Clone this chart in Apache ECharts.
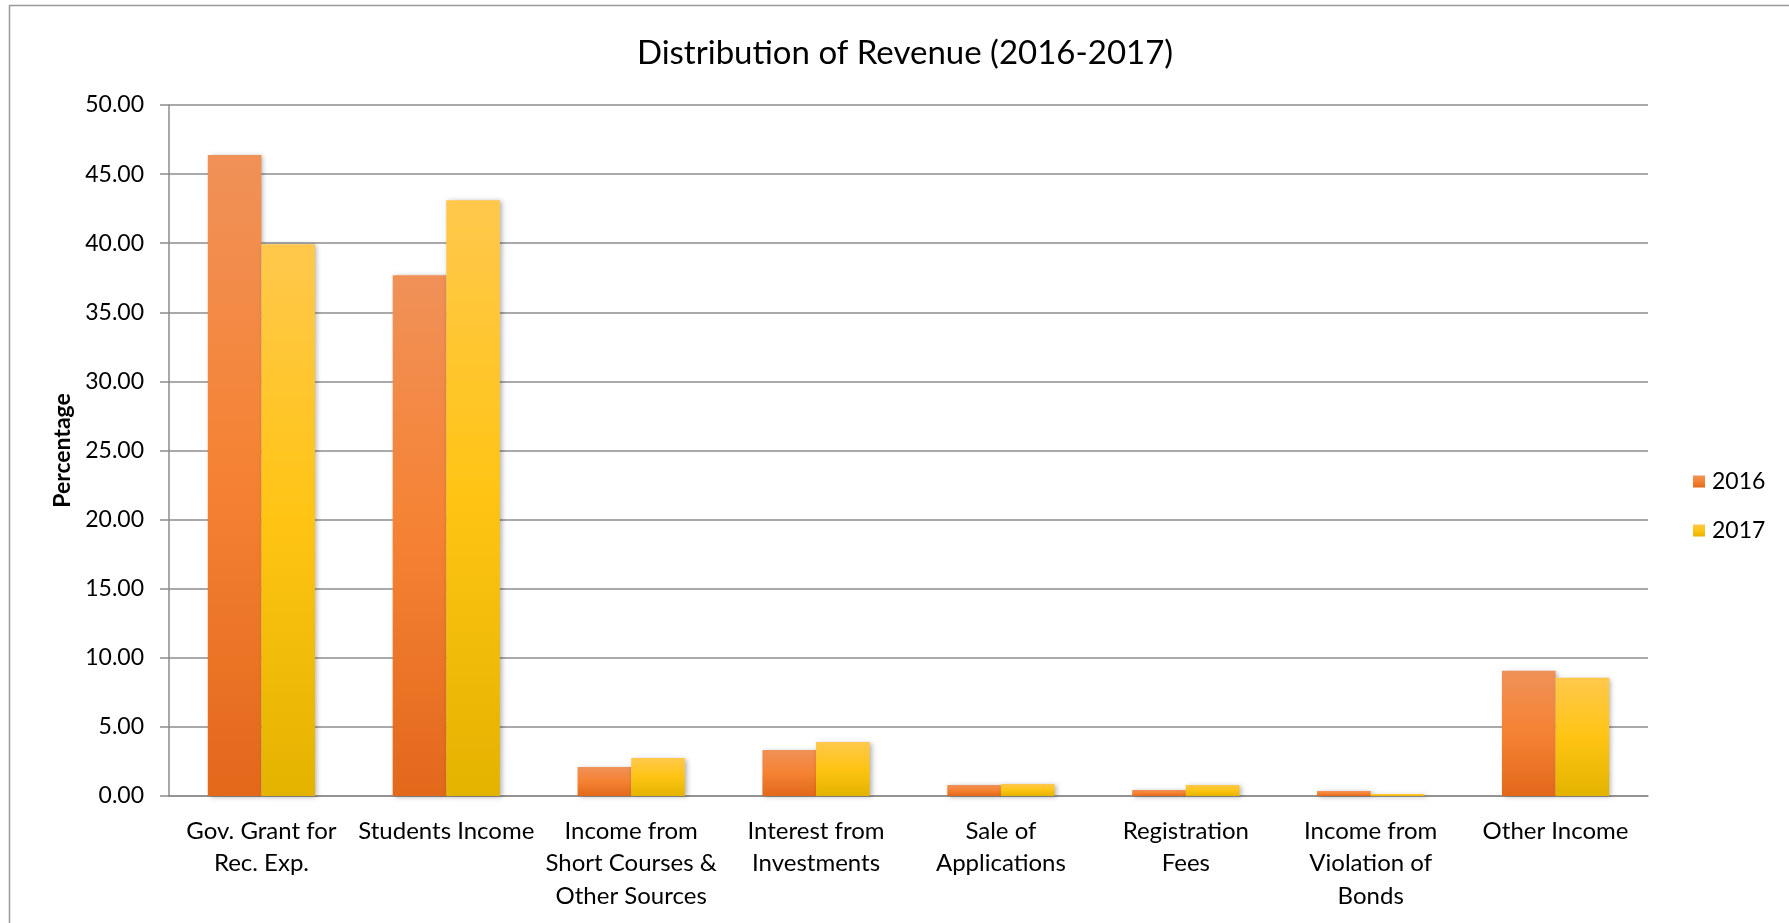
<!DOCTYPE html>
<html>
<head>
<meta charset="utf-8">
<title>Distribution of Revenue (2016-2017)</title>
<script src="https://cdn.jsdelivr.net/npm/echarts@6/dist/echarts.min.js"></script>
<style>
  html, body { margin: 0; padding: 0; background: #fff; }
  #chart { width: 1789px; height: 923px; }
</style>
</head>
<body>
<div id="chart"></div>
<script>
// categories (line breaks as in the original labels)
const categories = [
  'Gov. Grant for\nRec. Exp.',
  'Students Income',
  'Income from\nShort Courses &\nOther Sources',
  'Interest from\nInvestments',
  'Sale of\nApplications',
  'Registration\nFees',
  'Income from\nViolation of\nBonds',
  'Other Income'
]
const years = ['2016', '2017']
const values2016 = [46.38, 37.68, 2.10, 3.33, 0.80, 0.43, 0.36, 9.06]
const values2017 = [39.93, 43.10, 2.75, 3.91, 0.87, 0.80, 0.15, 8.55]

const FONT = 'Lato'

// gradient top -> bottom, like the office chart style
function grad(top, mid, bottom) {
  return new echarts.graphic.LinearGradient(0, 0, 0, 1, [
    { offset: 0, color: top },
    { offset: 0.5, color: mid },
    { offset: 1, color: bottom }
  ])
}

const barShadow = {
  shadowBlur: 5,
  shadowOffsetX: 2,
  shadowOffsetY: 1,
  shadowColor: 'rgba(0,0,0,0.3)'
}

const chart = echarts.init(document.getElementById('chart'), null, { renderer: 'canvas' })

chart.setOption({
  animation: false,
  backgroundColor: '#fff',
  title: {
    text: 'Distribution of Revenue (2016-2017)',
    left: 900,
    textAlign: 'center',
    top: 32,
    textStyle: { fontFamily: FONT, fontSize: 33, fontWeight: 'normal', color: '#000' }
  },
  legend: {
    orient: 'vertical',
    left: 1688,
    top: 465,
    itemWidth: 12,
    itemHeight: 12,
    itemGap: 26,
    icon: 'rect',
    textStyle: { fontFamily: FONT, fontSize: 23, color: '#000', padding: [0, 0, 0, 2] },
    data: years
  },
  grid: { left: 169, right: 141, top: 105, bottom: 127 },
  xAxis: {
    type: 'category',
    data: categories,
    axisLine: { lineStyle: { color: '#8c8c8c', width: 1.5 } },
    axisTick: { show: false },
    axisLabel: {
      interval: 0,
      margin: 19,
      lineHeight: 32.5,
      fontFamily: FONT,
      fontSize: 24,
      color: '#000'
    }
  },
  yAxis: {
    type: 'value',
    min: 0,
    max: 50,
    interval: 5,
    name: 'Percentage',
    nameLocation: 'middle',
    nameGap: 92,
    nameRotate: 90,
    nameTextStyle: { fontFamily: FONT, fontSize: 23, fontWeight: 'bold', color: '#000' },
    axisLine: { show: true, lineStyle: { color: '#8c8c8c', width: 1.5 } },
    axisTick: { show: true, length: 9, lineStyle: { color: '#8c8c8c', width: 1.5 } },
    splitLine: { lineStyle: { color: '#8c8c8c', width: 1.5 } },
    axisLabel: {
      margin: 25,
      fontFamily: FONT,
      fontSize: 23,
      color: '#000',
      formatter: (v) => v.toFixed(2)
    }
  },
  series: [
    {
      name: years[0],
      type: 'bar',
      data: values2016,
      barGap: '0%',
      barCategoryGap: '42%',
      itemStyle: Object.assign({ color: grad('#f09158', '#f58232', '#e2681a') }, barShadow)
    },
    {
      name: years[1],
      type: 'bar',
      data: values2017,
      barGap: '0%',
      barCategoryGap: '42%',
      itemStyle: Object.assign({ color: grad('#ffc84c', '#ffc413', '#e3b300') }, barShadow)
    }
  ],
  graphic: [
    // chart frame (top and left edges visible in the original)
    {
      type: 'polyline',
      silent: true,
      shape: { points: [[9.5, 923], [9.5, 5.5], [1789, 5.5]] },
      style: { stroke: '#9a9a9a', lineWidth: 1.5, fill: null }
    }
  ]
})
</script>
</body>
</html>
